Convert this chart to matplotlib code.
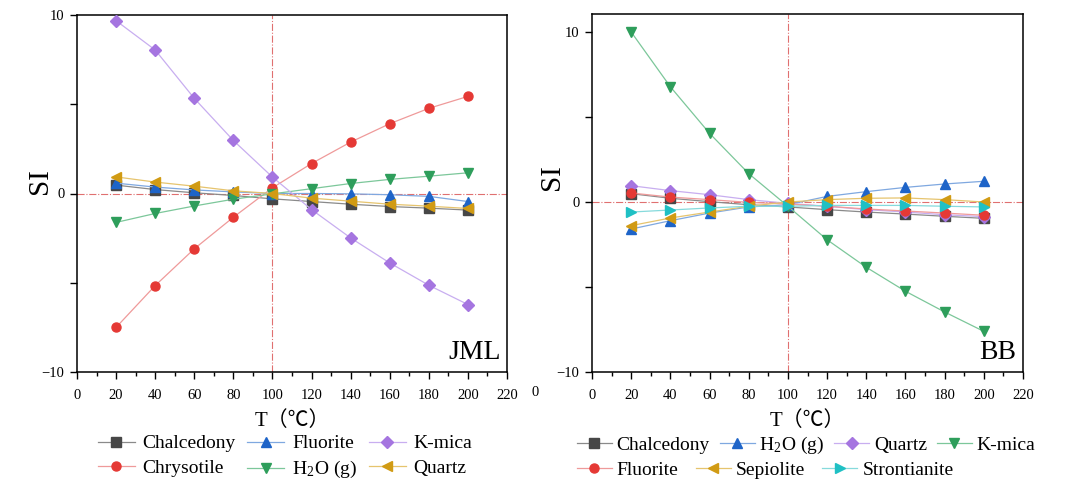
import matplotlib
matplotlib.use("Agg")
import matplotlib.pyplot as plt
from matplotlib.ticker import MultipleLocator

plt.rcParams["font.family"] = ["Liberation Serif", "Noto Sans CJK SC", "DejaVu Sans"]
plt.rcParams["mathtext.fontset"] = "stix"

# temperatures (deg C)
temps = [20, 40, 60, 80, 100, 120, 140, 160, 180, 200]

# JML saturation indices
jml_chalcedony = [0.47, 0.22, 0.04, -0.11, -0.30, -0.45, -0.60, -0.73, -0.82, -0.93]
jml_chrysotile = [-7.50, -5.16, -3.10, -1.33, 0.32, 1.68, 2.88, 3.91, 4.77, 5.44]
jml_fluorite = [0.58, 0.36, 0.20, 0.09, 0.00, 0.00, -0.02, -0.07, -0.16, -0.45]
jml_h2o = [-1.62, -1.12, -0.70, -0.32, -0.02, 0.27, 0.56, 0.79, 0.97, 1.16]
jml_kmica = [9.68, 8.04, 5.33, 2.97, 0.92, -0.90, -2.49, -3.89, -5.14, -6.22]
jml_quartz = [0.93, 0.64, 0.41, 0.15, 0.00, -0.26, -0.43, -0.60, -0.71, -0.84]

# BB saturation indices
bb_chalcedony = [0.49, 0.22, 0.02, -0.16, -0.29, -0.45, -0.59, -0.71, -0.84, -0.96]
bb_h2o = [-1.59, -1.10, -0.65, -0.29, -0.16, 0.33, 0.61, 0.86, 1.06, 1.22]
bb_quartz = [0.96, 0.67, 0.43, 0.14, -0.08, -0.25, -0.45, -0.59, -0.75, -0.86]
bb_kmica = [10.0, 6.78, 4.04, 1.67, -0.25, -2.22, -3.84, -5.25, -6.47, -7.61]
bb_fluorite = [0.53, 0.29, 0.14, -0.02, -0.12, -0.25, -0.41, -0.53, -0.65, -0.78]
bb_sepiolite = [-1.39, -0.94, -0.59, -0.25, 0.00, 0.14, 0.22, 0.24, 0.14, 0.00]
bb_strontianite = [-0.59, -0.47, -0.35, -0.25, -0.25, -0.20, -0.20, -0.20, -0.25, -0.29]

h2o_label = r"H$_\mathregular{2}$O (g)"

# (label, values, marker, marker colour, line colour)
jml_series = [
    ("Chalcedony", jml_chalcedony, "s", "#474747", "#8a8a8a"),
    ("Chrysotile", jml_chrysotile, "o", "#e53935", "#ef9a9a"),
    ("Fluorite", jml_fluorite, "^", "#1e64c8", "#7fa8e0"),
    (h2o_label, jml_h2o, "v", "#2e9e5b", "#7cc79a"),
    ("K-mica", jml_kmica, "D", "#a575e0", "#c8aef0"),
    ("Quartz", jml_quartz, "<", "#d19b14", "#e6c46e"),
]
bb_series = [
    ("Chalcedony", bb_chalcedony, "s", "#474747", "#8a8a8a"),
    (h2o_label, bb_h2o, "^", "#1e64c8", "#7fa8e0"),
    ("Quartz", bb_quartz, "D", "#a575e0", "#c8aef0"),
    ("K-mica", bb_kmica, "v", "#2e9e5b", "#7cc79a"),
    ("Fluorite", bb_fluorite, "o", "#e53935", "#ef9a9a"),
    ("Sepiolite", bb_sepiolite, "<", "#d19b14", "#e6c46e"),
    ("Strontianite", bb_strontianite, ">", "#1fc0c4", "#86dadc"),
]

fig = plt.figure(figsize=(10.67, 4.82), dpi=100)
ax1 = fig.add_axes([77 / 1067, 1 - 372 / 482, 430 / 1067, 357 / 482])
ax2 = fig.add_axes([592 / 1067, 1 - 372 / 482, 431 / 1067, 358 / 482])


def draw_panel(ax, series, ytop, tag, ylab_x, ylab_y):
    ax.axvline(100, color="#e07070", lw=0.8, ls="-.", zorder=1)
    ax.axhline(0, color="#e07070", lw=0.8, ls="-.", zorder=1)
    handles = []
    for label, vals, mk, mc, lc in series:
        h, = ax.plot(temps, vals, color=lc, lw=0.9, marker=mk, ms=6.5,
                     mfc=mc, mec=mc, label=label, zorder=3)
        handles.append(h)
    ax.set_xlim(0, 220)
    ax.set_ylim(-10, ytop)
    ax.xaxis.set_major_locator(MultipleLocator(20))
    ax.xaxis.set_minor_locator(MultipleLocator(10))
    ax.set_yticks([-10, -5, 0, 5, 10])
    ax.set_yticklabels(["\u221210", "", "0", "", "10"])
    ax.tick_params(which="both", direction="out", labelsize=10.5, width=1,
                   top=False, right=False, pad=4)
    ax.tick_params(axis="x", which="major", pad=7)
    ax.tick_params(which="major", length=5)
    ax.tick_params(which="minor", length=3)
    for sp in ax.spines.values():
        sp.set_linewidth(1.1)
    ax.set_ylabel("SI", fontsize=21)
    ax.yaxis.set_label_coords(ylab_x, ylab_y)
    ax.set_xlabel("T（℃）", fontsize=15, labelpad=7)
    ax.text(0.985, 0.02, tag, transform=ax.transAxes, ha="right", va="bottom",
            fontsize=20)
    return handles


leg_kw = dict(frameon=False, fontsize=14, labelspacing=0.35, borderpad=0.1,
              bbox_transform=fig.transFigure)

h1 = draw_panel(ax1, jml_series, 10, "JML", -0.056, 0.535)
fig.legend(handles=h1, loc="upper left", bbox_to_anchor=(86 / 1067, 0.122),
           ncol=3, handlelength=1.9, handletextpad=0.4, columnspacing=0.6,
           **leg_kw)

h2 = draw_panel(ax2, bb_series, 11.06, "BB", -0.063, 0.545)
row_kw = dict(handlelength=1.8, handletextpad=0.25, borderpad=0.1,
              frameon=False, fontsize=14, bbox_transform=fig.transFigure)
fig.legend(handles=h2[:4], loc="upper left", bbox_to_anchor=(565 / 1067, 0.122),
           ncol=4, columnspacing=0.5, **row_kw)
fig.legend(handles=h2[4:], loc="upper left", bbox_to_anchor=(565 / 1067, 0.068),
           ncol=3, columnspacing=0.9, **row_kw)

# stray tick label left at the edge of the right panel
fig.text(531 / 1067, 1 - 393 / 482, "0", fontsize=10.5, ha="left", va="center")

fig.savefig("out.png", dpi=100)
